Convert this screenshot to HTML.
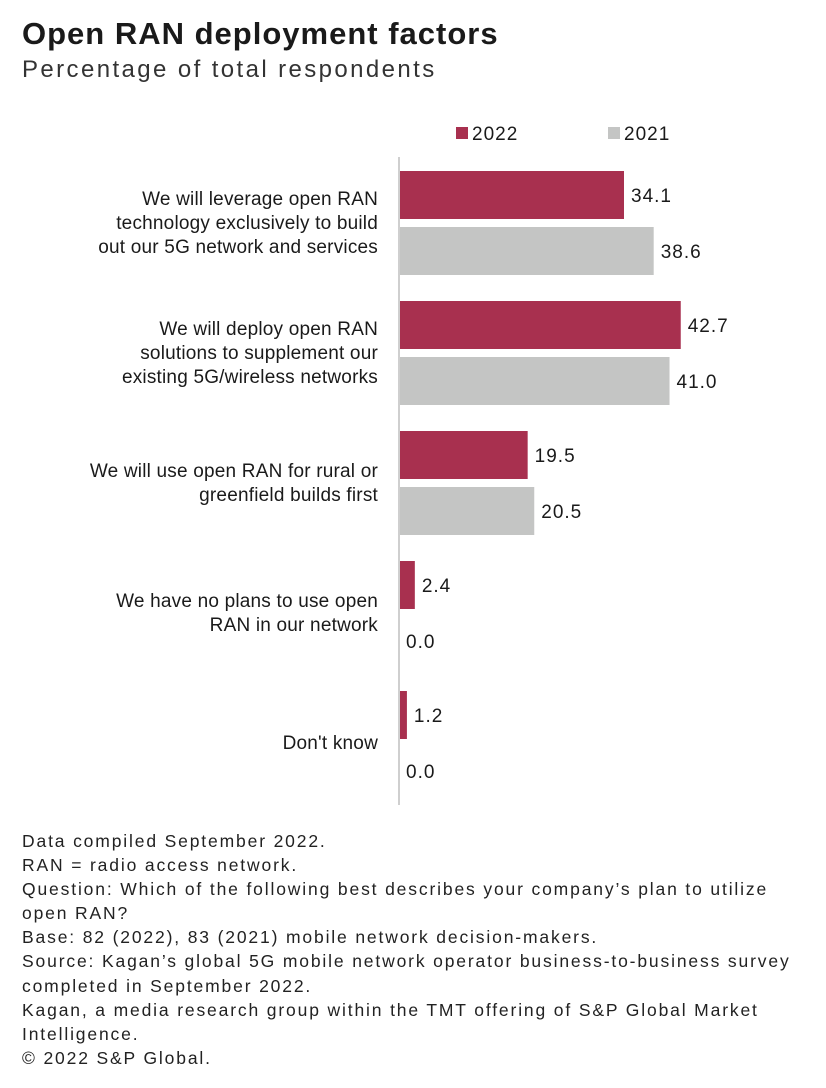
<!DOCTYPE html>
<html><head><meta charset="utf-8"><style>
body{margin:0;background:#fff;width:826px;height:1088px;overflow:hidden;font-family:"Liberation Sans",sans-serif;color:#1a1a1a}
#title{position:absolute;left:22px;top:16px;font-size:31px;font-weight:bold;margin:0;letter-spacing:1px}
#sub{position:absolute;left:22px;top:56px;font-size:24px;color:#333;letter-spacing:2.4px}
#notes{position:absolute;left:22px;top:829px;font-size:17.5px;line-height:24.1px;color:#222;letter-spacing:1.85px;white-space:nowrap}
</style></head><body>
<h1 id="title">Open RAN deployment factors</h1>
<div id="sub">Percentage of total respondents</div>
<svg id="chart" width="826" height="820" style="position:absolute;left:0;top:0"></svg>
<div id="notes">Data compiled September 2022.<br>RAN = radio access network.<br>Question: Which of the following best describes your company’s plan to utilize<br>open RAN?<br>Base: 82 (2022), 83 (2021) mobile network decision-makers.<br>Source: Kagan’s global 5G mobile network operator business-to-business survey<br>completed in September 2022.<br>Kagan, a media research group within the TMT offering of S&amp;P Global Market<br>Intelligence.<br>© 2022 S&amp;P Global.</div>
<script>
const categories=[["We will leverage open RAN","technology exclusively to build","out our 5G network and services"],["We will deploy open RAN","solutions to supplement our","existing 5G/wireless networks"],["We will use open RAN for rural or","greenfield builds first"],["We have no plans to use open","RAN in our network"],["Don't know"]];
const series2022=[34.1,42.7,19.5,2.4,1.2];
const series2021=[38.6,41.0,20.5,0.0,0.0];
const seriesNames=["2022","2021"];
const NS="http://www.w3.org/2000/svg";
const svg=document.getElementById('chart');
const x0=399,scale=(624-399)/34.1;
const xs=v=>x0+v*scale;
const groupY=i=>171+i*130;
const colors=["#a8304f","#c4c5c4"];
function mk(t,a){const e=document.createElementNS(NS,t);for(const k in a)e.setAttribute(k,a[k]);svg.appendChild(e);return e;}
seriesNames.forEach((n,j)=>{
 const lx=[456,608][j];
 const r=mk('rect',{x:lx,y:127,width:12,height:12,fill:colors[j]});
 
 
 const t=mk('text',{x:lx+16,y:140,'font-size':19,fill:'#1a1a1a','letter-spacing':1});t.textContent=n;
 
 
});
categories.forEach((c,i)=>{
 const gy=groupY(i);
 [series2022,series2021].forEach((s,j)=>{
  const y=gy+j*56;
  const w=xs(s[i])-x0;
  const r=mk('rect',{x:x0,y:y,width:Math.max(w,0),height:48,fill:colors[j]});
  
  
  const t=mk('text',{x:xs(s[i])+7,y:y+31,'font-size':19,fill:'#1a1a1a','letter-spacing':1});
  t.textContent=s[i].toFixed(1);
  
  
 });
 const mid=gy+52, lh=24, n=c.length;
 c.forEach((line,k)=>{
  const t=mk('text',{x:378,y:mid+(k-(n-1)/2)*lh+6,'font-size':19,'text-anchor':'end',fill:'#1a1a1a','letter-spacing':0.2});
  t.textContent=line;
  
  
 });
});
const ax=mk('line',{x1:x0,y1:157,x2:x0,y2:805,stroke:'#cfcfcf','stroke-width':2});


</script>
</body></html>
